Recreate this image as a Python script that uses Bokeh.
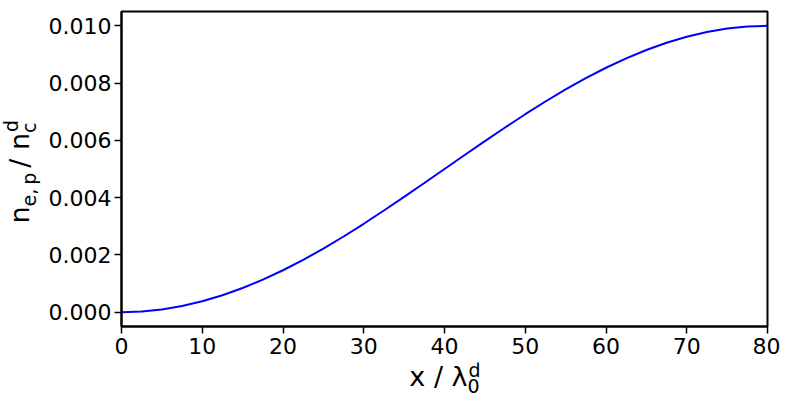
import math
from bokeh.plotting import figure
from bokeh.layouts import row, column
from bokeh.models import Range1d, FixedTicker, PrintfTickFormatter
from bokeh.core.properties import value
from bokeh.embed import file_html
from bokeh.resources import INLINE

# ---- data ----
x_vals = [0, 2.5, 5, 7.5, 10, 12.5, 15, 17.5, 20, 22.5, 25, 27.5, 30, 32.5, 35, 37.5,
          40, 42.5, 45, 47.5, 50, 52.5, 55, 57.5, 60, 62.5, 65, 67.5, 70, 72.5, 75, 77.5, 80]
density = [0.0, 0.000024, 0.000096, 0.000215, 0.000381, 0.000590, 0.000843, 0.001136,
           0.001464, 0.001827, 0.002222, 0.002643, 0.003087, 0.003551, 0.004025, 0.004510,
           0.005000, 0.005490, 0.005975, 0.006449, 0.006913, 0.007357, 0.007778, 0.008173,
           0.008536, 0.008864, 0.009157, 0.009410, 0.009619, 0.009785, 0.009904, 0.009976,
           0.010000]
x_ticks = [0, 10, 20, 30, 40, 50, 60, 70, 80]
y_ticks = [0.000, 0.002, 0.004, 0.006, 0.008, 0.010]

FONT = "DejaVu Sans"
MAIN = 27
SUB = 19
SUB_DROP = 7
SUP_RISE_X = 9
SUP_RISE_Y = 11
BL = 0.37            # svg text anchor sits this many em above the baseline

# ---- layout geometry (pixels) ----
YL_W = 45
FRAME_W, FRAME_H = 646, 315
TOP, BOTTOM, LEFT, RIGHT = 11, 36, 76, 13
MAIN_H = TOP + FRAME_H + BOTTOM
MAIN_W = LEFT + FRAME_W + RIGHT
XL_H = 41

p = figure(frame_width=FRAME_W, frame_height=FRAME_H, title=None,
           min_border_left=LEFT, min_border_right=RIGHT, min_border_top=TOP,
           min_border_bottom=BOTTOM,
           output_backend="svg", toolbar_location=None,
           x_range=Range1d(0, 80), y_range=Range1d(-0.0005, 0.0105))

p.line(x_vals, density, line_color="#0000ff", line_width=2)

p.xgrid.visible = False
p.ygrid.visible = False
p.outline_line_color = "black"
p.outline_line_width = 2
p.outline_line_alpha = 1.0
p.background_fill_color = "white"
p.border_fill_color = "white"

for ax in (p.xaxis[0], p.yaxis[0]):
    ax.axis_line_color = "black"
    ax.axis_line_width = 2
    ax.major_tick_line_color = "black"
    ax.major_tick_line_width = 1.5
    ax.major_tick_out = 7
    ax.major_tick_in = 0
    ax.minor_tick_line_color = None
    ax.major_label_text_font = FONT
    ax.major_label_text_font_size = "22px"
    ax.major_label_text_color = "black"

p.xaxis[0].ticker = FixedTicker(ticks=x_ticks)
p.yaxis[0].ticker = FixedTicker(ticks=y_ticks)
p.yaxis[0].formatter = PrintfTickFormatter(format="%.3f")
p.xaxis[0].major_label_standoff = 4
p.yaxis[0].major_label_standoff = 3


def strip(w, h, yr, top=0, bottom=0):
    f = figure(width=w, height=h, min_border=0, min_border_top=top,
               min_border_bottom=bottom, title=None, output_backend="svg",
               toolbar_location=None, x_axis_type=None, y_axis_type=None,
               x_range=Range1d(0, w), y_range=yr)
    f.outline_line_color = None
    f.xgrid.visible = False
    f.ygrid.visible = False
    f.background_fill_color = "white"
    f.border_fill_color = "white"
    return f


# approximate DejaVu Sans advance widths (em)
W = {"x": 0.592, " ": 0.318, "/": 0.337, "λ": 0.592, "n": 0.634, "e": 0.615,
     ",": 0.318, "p": 0.635, "c": 0.550, "d": 0.635, "0": 0.636, "\u2009": 0.2}


def width(s, size):
    return sum(W.get(ch, 0.6) for ch in s) * size


def put(f, text, x, y, size, angle=0.0):
    f.text(x=[x], y=[y], text=[text], angle=angle,
           text_font=value(FONT), text_font_size=value(f"{size}px"),
           text_color="black", text_align="left", text_baseline="alphabetic")


# ---- y-axis title: n_{e,p} / n_c^d (reads bottom to top) ----
# this strip's frame lines up with the main frame; y is measured up from its bottom
yl = strip(YL_W, MAIN_H, Range1d(0, FRAME_H), top=TOP, bottom=BOTTOM)
ang = math.pi / 2
base_x = 28.5                     # baseline of the main letters
sub1 = "e,\u2009p"
mid = "/ n"
y0 = 103
put(yl, "n", base_x - BL * MAIN, y0, MAIN, ang)
y1 = y0 + width("n", MAIN)
put(yl, sub1, base_x + SUB_DROP - BL * SUB, y1, SUB, ang)
y2 = y1 + width(sub1, SUB) + 5
put(yl, mid, base_x - BL * MAIN, y2, MAIN, ang)
y3 = y2 + width(mid, MAIN)
put(yl, "c", base_x + SUB_DROP - BL * SUB, y3, SUB, ang)
put(yl, "d", base_x - SUP_RISE_Y - BL * SUB, y3 + 1, SUB, ang)

# ---- x-axis title: x / λ_0^d ; y measured down from the strip top ----
xl = strip(YL_W + MAIN_W, XL_H, Range1d(XL_H, 0))
cx = YL_W + LEFT + FRAME_W / 2
base_y = 24
main = "x / λ"
total = width(main, MAIN) + width("d", SUB)
x0 = cx - total / 2
put(xl, main, x0, base_y - BL * MAIN, MAIN)
x1 = x0 + width(main, MAIN)
put(xl, "0", x1, base_y + SUB_DROP - BL * SUB, SUB)
put(xl, "d", x1 + 1, base_y - SUP_RISE_X - BL * SUB, SUB)

layout = column(row(yl, p, spacing=0), xl, spacing=0)

open("out.html", "w").write(file_html(layout, INLINE))
